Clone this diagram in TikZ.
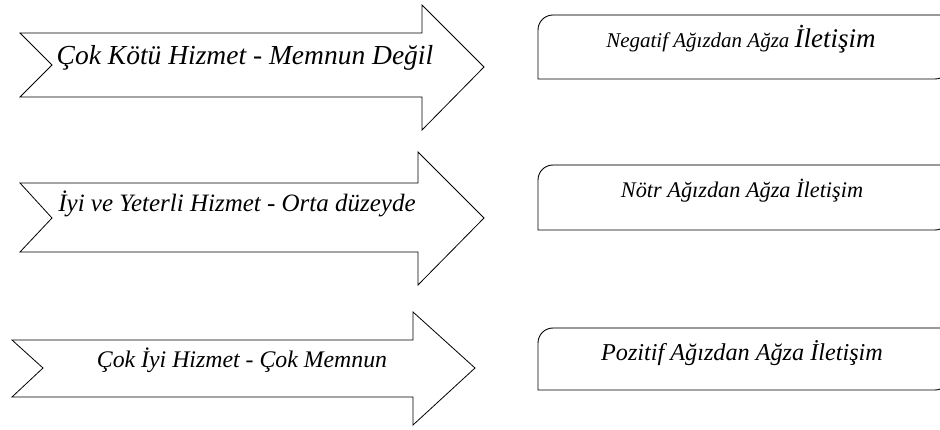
\documentclass[tikz,border=0pt]{standalone}
\usepackage{fontspec}
\setmainfont{Liberation Serif}
\begin{document}
\begin{tikzpicture}[x=1pt,y=-1pt,
  arrowshape/.style={draw=black,line width=0.8pt,fill=white,line join=miter},
  boxshape/.style={draw=black,line width=0.9pt,fill=white},
  arrowtext/.style={anchor=base,inner sep=0pt,font=\itshape},
  boxtext/.style={anchor=base,inner sep=0pt,font=\itshape}]
\useasboundingbox (0,0) rectangle (940,430);
\clip (0,0) rectangle (940,430);
% arrows
\draw[arrowshape] (20,33) -- (422,33) -- (422,5) -- (484,67) -- (422,130) -- (422,97) -- (20,97) -- (52,65) -- cycle;
\draw[arrowshape] (20,183) -- (418,183) -- (418,152) -- (484,218) -- (418,285) -- (418,252) -- (20,252) -- (52,218) -- cycle;
\draw[arrowshape] (12,340) -- (413,340) -- (413,312) -- (475,368) -- (413,425) -- (413,397) -- (12,397) -- (43,368) -- cycle;
\node[arrowtext] (a1) at (245,65) {\fontsize{27.5}{32}\selectfont Çok Kötü Hizmet - Memnun Değil};
\node[arrowtext] (a2) at (237,212) {\fontsize{25}{30}\selectfont İyi ve Yeterli Hizmet - Orta düzeyde};
\node[arrowtext] (a3) at (242,367) {\fontsize{23.8}{28}\selectfont Çok İyi Hizmet - Çok Memnun};
% boxes
\foreach \t/\b in {15/79,165/230,328/390}{
  \draw[boxshape] (538,\b) -- (538,\t+15) arc[start angle=180,end angle=270,radius=15] -- (950,\t) -- (950,\b-15) arc[start angle=0,end angle=90,radius=15] -- cycle;
  \draw[gray!80,line width=1.1pt] (553,\t) -- (940,\t);
}
\node[boxtext] (b1) at (741,48) {\fontsize{21}{24}\selectfont Negatif Ağızdan Ağza \fontsize{27}{30}\selectfont İletişim};
\node[boxtext] (b2) at (742,198) {\fontsize{22.3}{26}\selectfont Nötr Ağızdan Ağza İletişim};
\node[boxtext] (b3) at (742,361) {\fontsize{24.2}{28}\selectfont Pozitif Ağızdan Ağza İletişim};
\end{tikzpicture}
\end{document}
